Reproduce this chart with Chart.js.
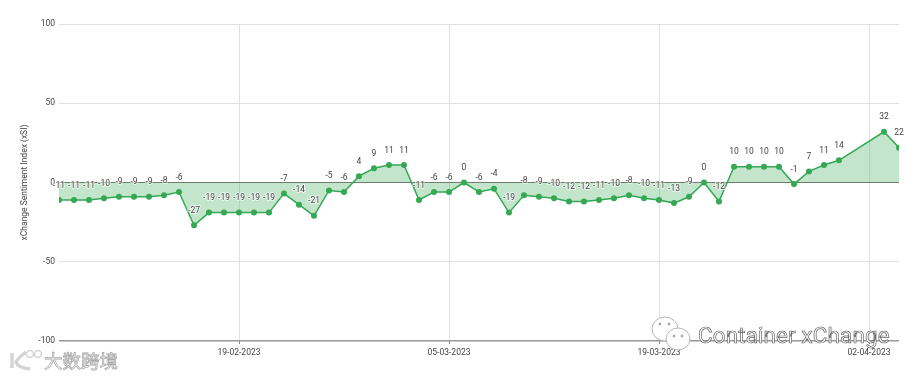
<!DOCTYPE html>
<html lang="en">
<head>
    <meta charset="UTF-8">
    <title>xChange Sentiment Index</title>
    <script src="https://cdn.jsdelivr.net/npm/chart.js"></script>
    <style>
        html, body { margin: 0; padding: 0; background: #fff; overflow: hidden; }
        #wrap { position: relative; width: 918px; height: 377px; }
        canvas { display: block; }
        .mark { position: absolute; white-space: nowrap; pointer-events: none; }
        #brand { left: 698px; top: 322px; font: 22.3px Roboto, sans-serif; color: #fff; -webkit-text-stroke: 0.7px #666; letter-spacing: 0.2px; }
        #cn { left: 44px; top: 347px; font: 18.5px "Noto Sans CJK SC", sans-serif; color: #fff; -webkit-text-stroke: 0.8px #aaa; }
        #wechat { left: 650px; top: 314px; }
        #klogo { left: 8px; top: 348px; }
    </style>
</head>
<body>
    <div id="wrap">
        <canvas id="chart" width="918" height="377"></canvas>
        <svg class="mark" id="wechat" width="46" height="42" fill="#fff" stroke="#999" stroke-width="0.7">
            <ellipse cx="15" cy="15" rx="13" ry="12"/>
            <ellipse cx="28" cy="25" rx="12" ry="11"/>
            <circle cx="24" cy="22" r="1" fill="#999"/><circle cx="32" cy="22" r="1" fill="#999"/>
            <circle cx="10" cy="10" r="1" fill="#999"/><circle cx="19" cy="10" r="1" fill="#999"/>
        </svg>
        <svg class="mark" id="klogo" width="36" height="26" fill="none" stroke="#d4d4d4" stroke-width="3.5">
            <path d="M4 5 V20 M18 4 Q8 12 8 14 Q10 20 22 21"/>
            <circle cx="22" cy="6" r="3.5" stroke-width="1.5"/><circle cx="30" cy="6" r="3.5" stroke-width="1.5"/>
        </svg>
        <span class="mark" id="brand">Container xChange</span>
        <span class="mark" id="cn">大数跨境</span>
    </div>

    <script>
        const days = [
            '07-02-2023', '08-02-2023', '09-02-2023', '10-02-2023', '11-02-2023', '12-02-2023', '13-02-2023',
            '14-02-2023', '15-02-2023', '16-02-2023', '17-02-2023', '18-02-2023', '19-02-2023', '20-02-2023',
            '21-02-2023', '22-02-2023', '23-02-2023', '24-02-2023', '25-02-2023', '26-02-2023', '27-02-2023',
            '28-02-2023', '01-03-2023', '02-03-2023', '03-03-2023', '04-03-2023', '05-03-2023', '06-03-2023',
            '07-03-2023', '08-03-2023', '09-03-2023', '10-03-2023', '11-03-2023', '12-03-2023', '13-03-2023',
            '14-03-2023', '15-03-2023', '16-03-2023', '17-03-2023', '18-03-2023', '19-03-2023', '20-03-2023',
            '21-03-2023', '22-03-2023', '23-03-2023', '24-03-2023', '25-03-2023', '26-03-2023', '27-03-2023',
            '28-03-2023', '29-03-2023', '30-03-2023', '31-03-2023', '01-04-2023', '02-04-2023', '03-04-2023',
            '04-04-2023'
        ];
        // no reading for 1 and 2 April, the line just spans them
        const xsi = [
            -11, -11, -11, -10, -9, -9, -9,
            -8, -6, -27, -19, -19, -19, -19,
            -19, -7, -14, -21, -5, -6, 4,
            9, 11, 11, -11, -6, -6, 0,
            -6, -4, -19, -8, -9, -10, -12,
            -12, -11, -10, -8, -10, -11, -13,
            -9, 0, -12, 10, 10, 10, 10,
            -1, 7, 11, 14, null, null, 32,
            22
        ];
        const xTicks = ['19-02-2023', '05-03-2023', '19-03-2023', '02-04-2023'];
        const yTicks = [100, 50, 0, -50, -100];

        const green = '#34a853';
        const textColor = '#444';

        // value above every point, soft white halo so the zero line breaks behind it
        const pointLabels = {
            id: 'pointLabels',
            afterDatasetsDraw(chart) {
                const ctx = chart.ctx;
                const meta = chart.getDatasetMeta(0);
                ctx.save();
                ctx.font = '8.5px Roboto, sans-serif';
                ctx.textAlign = 'center';
                ctx.textBaseline = 'middle';
                ctx.fillStyle = textColor;
                ctx.strokeStyle = 'rgba(255, 255, 255, 0.7)';
                ctx.lineWidth = 2;
                ctx.lineJoin = 'round';
                meta.data.forEach((pt, i) => {
                    if (xsi[i] === null) return;
                    ctx.strokeText(xsi[i], pt.x, pt.y - 14.5);
                    ctx.fillText(xsi[i], pt.x, pt.y - 14.5);
                });
                ctx.restore();
            }
        };

        new Chart(document.getElementById('chart').getContext('2d'), {
            type: 'line',
            data: {
                labels: days,
                datasets: [{
                    data: xsi,
                    borderColor: green,
                    borderWidth: 1.5,
                    backgroundColor: 'rgba(52, 168, 83, 0.3)',
                    pointBackgroundColor: green,
                    pointBorderColor: green,
                    pointRadius: 3,
                    pointBorderWidth: 0,
                    tension: 0,
                    spanGaps: true,
                    fill: 'origin',
                    clip: 0
                }]
            },
            options: {
                responsive: false,
                animation: false,
                layout: { padding: { top: 24, right: 19, bottom: 0, left: 0 } },
                plugins: { legend: { display: false }, tooltip: { enabled: false } },
                scales: {
                    x: {
                        offset: false,
                        afterBuildTicks(axis) {
                            axis.ticks = axis.ticks.filter(t => xTicks.includes(days[t.value]));
                        },
                        afterFit(axis) { axis.height = 36; },
                        border: { display: false },
                        grid: { color: '#e0e0e0', lineWidth: 1, tickLength: 3, tickColor: '#888' },
                        ticks: {
                            autoSkip: false,
                            maxRotation: 0,
                            padding: 4,
                            color: textColor,
                            font: { family: 'Roboto, sans-serif', size: 8.5 },
                            callback(value) { return days[value]; }
                        }
                    },
                    y: {
                        min: -100,
                        max: 100,
                        afterBuildTicks(axis) { axis.ticks = yTicks.map(v => ({ value: v })); },
                        afterFit(axis) { axis.width = 59; },
                        border: { display: false },
                        grid: {
                            drawTicks: false,
                            lineWidth: c => (c.tick.value === -100 ? 1.5 : 1),
                            color: c => (c.tick.value === 0 ? '#777' : c.tick.value === -100 ? '#999' : '#e0e0e0')
                        },
                        ticks: {
                            padding: 4,
                            color: textColor,
                            font: { family: 'Roboto, sans-serif', size: 8.5 }
                        },
                        title: {
                            display: true,
                            text: 'xChange Sentiment Index (xSI)',
                            color: textColor,
                            padding: { top: 20, bottom: 0 },
                            font: { family: 'Roboto, sans-serif', size: 8.5 }
                        }
                    }
                }
            },
            plugins: [pointLabels]
        });
    </script>
</body>
</html>
